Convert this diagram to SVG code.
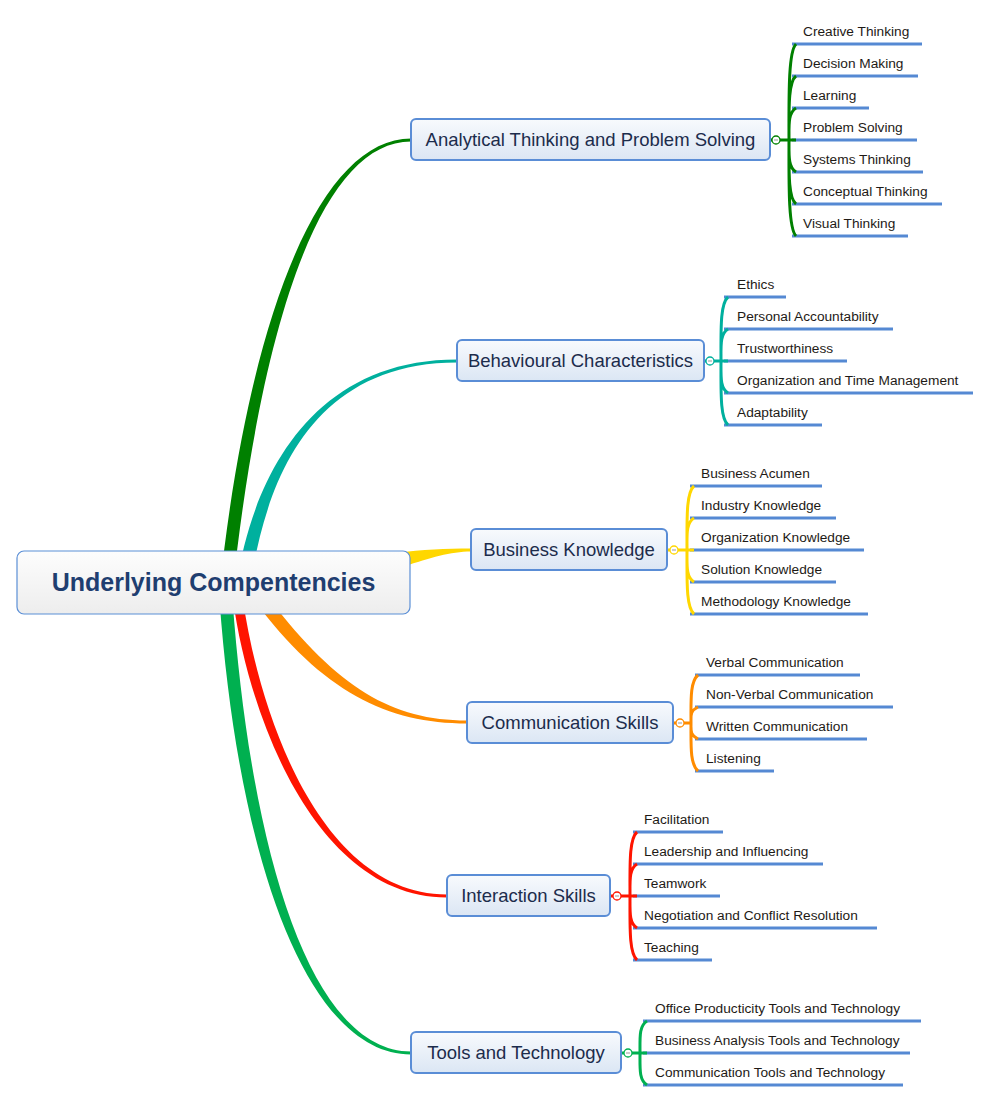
<svg xmlns="http://www.w3.org/2000/svg" width="992" height="1102" viewBox="0 0 992 1102">
<defs>
<linearGradient id="gNode" x1="0" y1="0" x2="0" y2="1"><stop offset="0" stop-color="#f8fafd"/><stop offset="1" stop-color="#dbe6f4"/></linearGradient>
<linearGradient id="gRoot" x1="0" y1="0" x2="0" y2="1"><stop offset="0" stop-color="#fdfdfd"/><stop offset="1" stop-color="#ededed"/></linearGradient>
<style>
.node rect{fill:url(#gNode);stroke:#5a8dd6;stroke-width:2}
.node text{font-family:"Liberation Sans",Arial,sans-serif;font-size:18.5px;fill:#1c2c4c;text-anchor:middle}
.leaf text{font-family:"Liberation Sans",Arial,sans-serif;font-size:13.7px;fill:#1e1a16}
.ul{stroke:#5589d3;stroke-width:3;fill:none}
.br{fill:none;stroke-width:3}
.cc{fill:#fff;stroke-width:1.3}
.mn{stroke:#999;stroke-width:1}
</style>
</defs>
<rect width="992" height="1102" fill="#fff"/>

<g id="connectors">
<path d="M219.5,590 C248.5,318 319,138.5 411,138.5 L411,141.5 C321,141.5 261.5,322 232.5,590 Z" fill="#008000"/>
<path d="M237,582 C251,490 304,359.5 457,359.5 L457,362.5 C306,362.5 265,490 251,582 Z" fill="#00b09e"/>
<path d="M300,575 C380,552 420,548.5 471,548.5 L471,551.5 C430,552 390,575 300,600 Z" fill="#ffd700"/>
<path d="M270,600 C338,688 392,720.5 467,720.5 L467,723.5 C388,723.5 322,692 254,600 Z" fill="#ff8c00"/>
<path d="M219.5,600 C238.5,862 308,1054.5 411,1054.5 L411,1051.5 C312,1051.5 251.5,858 232.5,600 Z" fill="#00b050"/>
<path d="M233,600 C250,722 318,897.5 447,897.5 L447,894.5 C322,894.5 260,718 243,600 Z" fill="#ff1400"/>

<g stroke="#008000">
<path class="ul" d="M792,44H922 M792,76H918 M792,108H869 M792,140H917 M792,172H923 M792,204H942 M792,236H908" stroke="#5589d3"/>
<path class="br" d="M770,140H772 M780,140H796 M789,140C789,100 788,52 796,44 M789,140C789,110 788,82 796,76 M789,140C789,125 788,113 796,108 M789,140C789,180 788,228 796,236 M789,140C789,170 788,198 796,204 M789,140C789,155 788,167 796,172"/>
<circle class="cc" cx="776" cy="140" r="4"/>
<path class="mn" d="M774,140H778"/>
</g>
<g stroke="#00b09e">
<path class="ul" d="M724,297H786 M724,329H893 M724,361H847 M724,393H973 M724,425H822" stroke="#5589d3"/>
<path class="br" d="M704,361H706 M714,361H728 M721,361C721,330 720,304 728,297 M721,361C721,345 720,334 728,329 M721,361C721,392 720,418 728,425 M721,361C721,377 720,388 728,393"/>
<circle class="cc" cx="710" cy="361" r="4"/>
<path class="mn" d="M708,361H712"/>
</g>
<g stroke="#ffd700">
<path class="ul" d="M690,486H822 M690,518H836 M690,550H864 M690,582H836 M690,614H868" stroke="#5589d3"/>
<path class="br" d="M667,550H670 M678,550H694 M687,550C687,519 686,493 694,486 M687,550C687,534 686,523 694,518 M687,550C687,581 686,607 694,614 M687,550C687,566 686,577 694,582"/>
<circle class="cc" cx="674" cy="550" r="4"/>
<path class="mn" d="M672,550H676"/>
</g>
<g stroke="#ff8c00">
<path class="ul" d="M695,675H860 M695,707H893 M695,739H867 M695,771H774" stroke="#5589d3"/>
<path class="br" d="M673,723H676 M684,723H691 M691,723C691,700 690,682 698,675 M691,723C691,715 690,711 698,707 M691,723C691,746 690,764 698,771 M691,723C691,731 690,735 698,739"/>
<circle class="cc" cx="680" cy="723" r="4"/>
<path class="mn" d="M678,723H682"/>
</g>
<g stroke="#ff1400">
<path class="ul" d="M633,832H723 M633,864H823 M633,896H720 M633,928H877 M633,960H712" stroke="#5589d3"/>
<path class="br" d="M610,896H613 M621,896H637 M630,896C630,865 629,839 637,832 M630,896C630,880 629,869 637,864 M630,896C630,927 629,953 637,960 M630,896C630,912 629,923 637,928"/>
<circle class="cc" cx="617" cy="896" r="4"/>
<path class="mn" d="M615,896H619"/>
</g>
<g stroke="#00b050">
<path class="ul" d="M643,1021H921 M643,1053H910 M643,1085H903" stroke="#5589d3"/>
<path class="br" d="M621,1053H624 M632,1053H647 M640,1053C640,1037 639,1026 647,1021 M640,1053C640,1069 639,1080 647,1085"/>
<circle class="cc" cx="628" cy="1053" r="4"/>
<path class="mn" d="M626,1053H630"/>
</g>
</g>

<g id="root">
<rect x="17" y="551" width="393" height="63" rx="7" fill="url(#gRoot)" stroke="#5b8fd6" stroke-width="1.2"/>
<text x="213.5" y="591" font-family="'Liberation Sans',Arial,sans-serif" font-size="25" font-weight="bold" fill="#1f3e70" text-anchor="middle">Underlying Compentencies</text>
</g>

<g id="n-analytical" class="node"><rect x="411" y="119" width="359" height="41" rx="5"/><text x="590.5" y="146">Analytical Thinking and Problem Solving</text></g>
<g id="n-behavioural" class="node"><rect x="457" y="340" width="247" height="41" rx="5"/><text x="580.5" y="367">Behavioural Characteristics</text></g>
<g id="n-business" class="node"><rect x="471" y="529" width="196" height="41" rx="5"/><text x="569" y="556">Business Knowledge</text></g>
<g id="n-communication" class="node"><rect x="467" y="702" width="206" height="41" rx="5"/><text x="570" y="729">Communication Skills</text></g>
<g id="n-interaction" class="node"><rect x="447" y="875" width="163" height="41" rx="5"/><text x="528.5" y="902">Interaction Skills</text></g>
<g id="n-tools" class="node"><rect x="411" y="1032" width="210" height="41" rx="5"/><text x="516" y="1059">Tools and Technology</text></g>

<g id="leaves-analytical" class="leaf">
<text x="803" y="36">Creative Thinking</text>
<text x="803" y="68">Decision Making</text>
<text x="803" y="100">Learning</text>
<text x="803" y="132">Problem Solving</text>
<text x="803" y="164">Systems Thinking</text>
<text x="803" y="196">Conceptual Thinking</text>
<text x="803" y="228">Visual Thinking</text>
</g>
<g id="leaves-behavioural" class="leaf">
<text x="737" y="289">Ethics</text>
<text x="737" y="321">Personal Accountability</text>
<text x="737" y="353">Trustworthiness</text>
<text x="737" y="385">Organization and Time Management</text>
<text x="737" y="417">Adaptability</text>
</g>
<g id="leaves-business" class="leaf">
<text x="701" y="478">Business Acumen</text>
<text x="701" y="510">Industry Knowledge</text>
<text x="701" y="542">Organization Knowledge</text>
<text x="701" y="574">Solution Knowledge</text>
<text x="701" y="606">Methodology Knowledge</text>
</g>
<g id="leaves-communication" class="leaf">
<text x="706" y="667">Verbal Communication</text>
<text x="706" y="699">Non-Verbal Communication</text>
<text x="706" y="731">Written Communication</text>
<text x="706" y="763">Listening</text>
</g>
<g id="leaves-interaction" class="leaf">
<text x="644" y="824">Facilitation</text>
<text x="644" y="856">Leadership and Influencing</text>
<text x="644" y="888">Teamwork</text>
<text x="644" y="920">Negotiation and Conflict Resolution</text>
<text x="644" y="952">Teaching</text>
</g>
<g id="leaves-tools" class="leaf">
<text x="655" y="1013">Office Producticity Tools and Technology</text>
<text x="655" y="1045">Business Analysis Tools and Technology</text>
<text x="655" y="1077">Communication Tools and Technology</text>
</g>
</svg>
